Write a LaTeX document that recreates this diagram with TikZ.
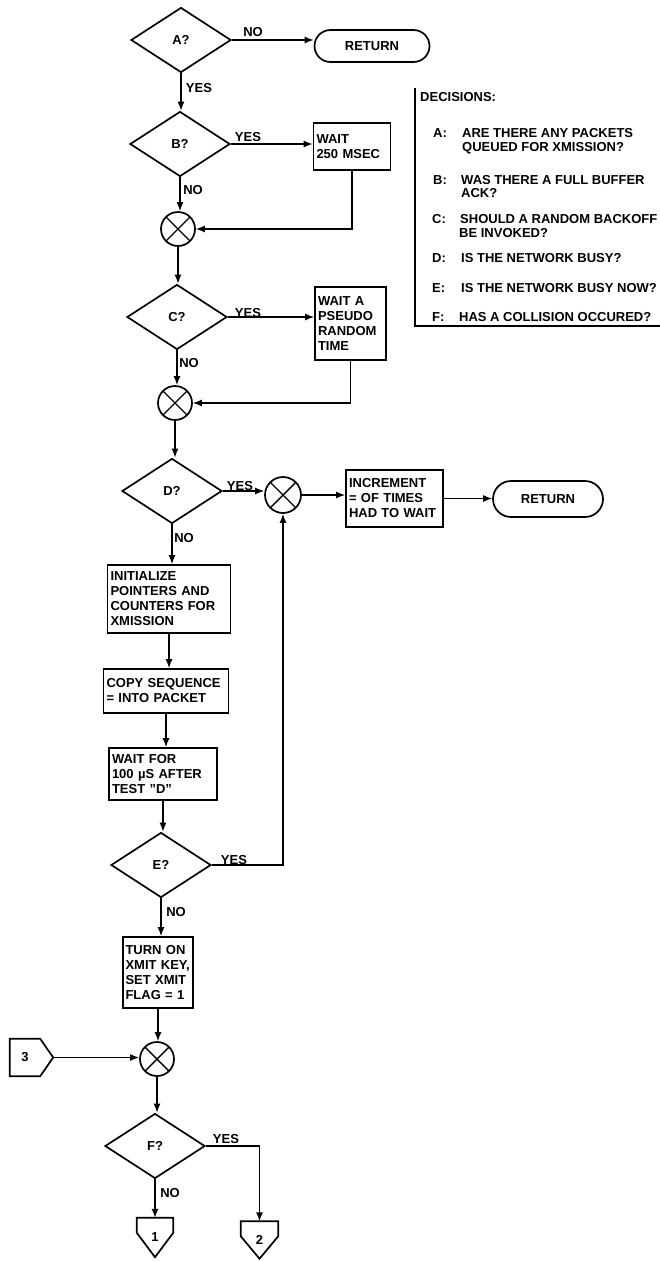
\documentclass[tikz,border=0pt]{standalone}
\usepackage{fontspec}
\setmainfont{Liberation Sans}
\usetikzlibrary{shapes.geometric,arrows.meta,calc}
\begin{document}
\begin{tikzpicture}[x=1pt,y=-1pt,
  every node/.style={font=\fontsize{13}{15}\selectfont\bfseries},
  line/.style={line width=1.4pt,-{Latex[length=9pt,width=7pt]}},
  plain/.style={line width=1.7pt},
  dec/.style={draw,diamond,line width=1.7pt,minimum width=100pt,minimum height=65pt,inner sep=0pt},
  proc/.style={draw,rectangle,line width=1.7pt,align=left,inner xsep=3pt,inner ysep=2pt},
  term/.style={draw,rectangle,rounded corners=16pt,line width=1.7pt,minimum width=115pt,minimum height=32pt},
  junc/.style={draw,circle,line width=1.7pt,minimum size=34pt,inner sep=0pt,
    path picture={\draw[line width=1.4pt] (path picture bounding box.north west) -- (path picture bounding box.south east)
      (path picture bounding box.north east) -- (path picture bounding box.south west);}},
  lab/.style={inner sep=0pt},
  legend/.style={anchor=base west,inner sep=0pt},
  offpage/.style={inner sep=0pt}
]
\fill[white] (0,0) rectangle (660,1261);
\useasboundingbox (0,0) rectangle (660,1261);

% decisions
\node[dec] (A) at (181,40) {A?};
\node[dec] (B) at (180,144) {B?};
\node[dec] (C) at (177,317) {C?};
\node[dec] (D) at (172,491) {D?};
\node[dec] (E) at (161,865) {E?};
\node[dec] (F) at (155,1146) {F?};

% terminals
\node[term] (R1) at (372,46) {RETURN};
\node[term,minimum width=110pt,minimum height=36pt,rounded corners=18pt] (R2) at (548,499) {RETURN};

% processes
\node[proc,text width=71pt,minimum height=47pt] (W1) at (352,146.5) {WAIT\\250 MSEC};
\node[proc,text width=65pt,minimum height=73pt] (W2) at (350.5,323.5) {WAIT A\\PSEUDO\\RANDOM\\TIME};
\node[proc,text width=91pt,minimum height=57pt] (INC) at (394.5,498.5) {INCREMENT\\= OF TIMES\\HAD TO WAIT};
\node[proc,text width=117pt,minimum height=68pt] (INIT) at (169,599) {INITIALIZE\\POINTERS AND\\COUNTERS FOR\\XMISSION};
\node[proc,text width=119pt,minimum height=44pt] (COPY) at (166,691) {COPY SEQUENCE\\= INTO PACKET};
\node[proc,text width=102pt,minimum height=52pt] (WF) at (163,774) {WAIT FOR\\100 µS AFTER\\TEST \symbol{34}D\symbol{34}};
\node[proc,text width=65pt,inner xsep=2.5pt,minimum height=71pt] (TURN) at (158,972.5) {TURN ON\\XMIT KEY,\\SET XMIT\\FLAG = 1};

% junctions
\node[junc] (J1) at (178,229) {};
\node[junc] (J2) at (175,403) {};
\node[junc,minimum size=36pt] (J3) at (283,495) {};
\node[junc] (J4) at (157,1059) {};

% off-page connectors
\node[offpage,minimum width=30pt,minimum height=37pt] (c3) at (25,1057.5) {3};
\coordinate (c3tip) at ($(c3.east)+(13,0)$);
\draw[plain] (c3.north west) -- (c3.north east) -- (c3tip) -- (c3.south east) -- (c3.south west) -- cycle;
\node[offpage,minimum width=36pt,minimum height=39pt] (c1) at (155,1237.5) {1};
\draw[plain] (c1.north west) -- (c1.north east) -- ($(c1.north east)+(0,15)$) -- (c1.south) -- ($(c1.north west)+(0,15)$) -- cycle;
\node[offpage,minimum width=37pt,minimum height=37pt] (c2) at (259.5,1240) {2};
\draw[plain] (c2.north west) -- (c2.north east) -- ($(c2.north east)+(0,15)$) -- (c2.south) -- ($(c2.north west)+(0,15)$) -- cycle;

% connectors
\draw[line] (A.east) -- (A.east -| R1.west);
\draw[line] (A.south) -- (A.south |- B.north);
\draw[line] (B.east) -- (B.east -| W1.west);
\draw[line] (B.south) -- (B.south |- J1.north);
\draw[line] (W1.south) |- (J1.east);
\draw[line] (J1.south) -- (J1.south |- C.north);
\draw[line] (C.east) -- (C.east -| W2.west);
\draw[line] (C.south) -- (C.south |- J2.north);
\draw[line] (W2.south) |- (J2.east);
\draw[line] (J2.south) -- (J2.south |- D.north);
\draw[line] (D.east) -- (D.east -| J3.west);
\draw[line] (J3.east) -- (J3.east -| INC.west);
\draw[line] (INC.east) -- (INC.east -| R2.west);
\draw[line] (D.south) -- (D.south |- INIT.north);
\draw[line] (INIT.south) -- (INIT.south |- COPY.north);
\draw[line] (COPY.south) -- (COPY.south |- WF.north);
\draw[line] (WF.south) -- (WF.south |- E.north);
\draw[line] (E.east) -| (J3.south);
\draw[line] (E.south) -- (E.south |- TURN.north);
\draw[line] (TURN.south) -- (TURN.south |- J4.north);
\draw[line] (c3tip) -- (c3tip -| J4.west);
\draw[line] (J4.south) -- (J4.south |- F.north);
\draw[line] (F.south) -- (F.south |- c1.north);
\draw[line] (F.east) -| (c2.north);

% branch labels
\node[lab] (lA1) at (253,32) {NO};
\node[lab] (lA2) at (199,88) {YES};
\node[lab] (lB1) at (248,137) {YES};
\node[lab] (lB2) at (193,190) {NO};
\node[lab] (lC1) at (248,313) {YES};
\node[lab] (lC2) at (189,363) {NO};
\node[lab] (lD1) at (240,486) {YES};
\node[lab] (lD2) at (184,538) {NO};
\node[lab] (lE1) at (234,860) {YES};
\node[lab] (lE2) at (176,912) {NO};
\node[lab] (lF1) at (226,1139) {YES};
\node[lab] (lF2) at (170,1193) {NO};

% legend
\draw[plain] (415,88) -- (415,326) -- (660,326);
\node[legend] (dh) at (420,101.6) {DECISIONS:};
\node[legend] (dA) at (433,137.6) {A:};
\node[legend] (dA1) at (462,137.6) {ARE THERE ANY PACKETS};
\node[legend] (dA2) at (462,151.6) {QUEUED FOR XMISSION?};
\node[legend] (dB) at (433,184.6) {B:};
\node[legend] (dB1) at (461,184.6) {WAS THERE A FULL BUFFER};
\node[legend] (dB2) at (461,197.6) {ACK?};
\node[legend] (dC) at (432,223.6) {C:};
\node[legend] (dC1) at (460,223.6) {SHOULD A RANDOM BACKOFF};
\node[legend] (dC2) at (459,237.6) {BE INVOKED?};
\node[legend] (dD) at (432,262.6) {D:};
\node[legend] (dD1) at (461,262.6) {IS THE NETWORK BUSY?};
\node[legend] (dE) at (432,292.6) {E:};
\node[legend] (dE1) at (461,292.6) {IS THE NETWORK BUSY NOW?};
\node[legend] (dF) at (432,321.6) {F:};
\node[legend] (dF1) at (459,321.6) {HAS A COLLISION OCCURED?};
\end{tikzpicture}
\end{document}
